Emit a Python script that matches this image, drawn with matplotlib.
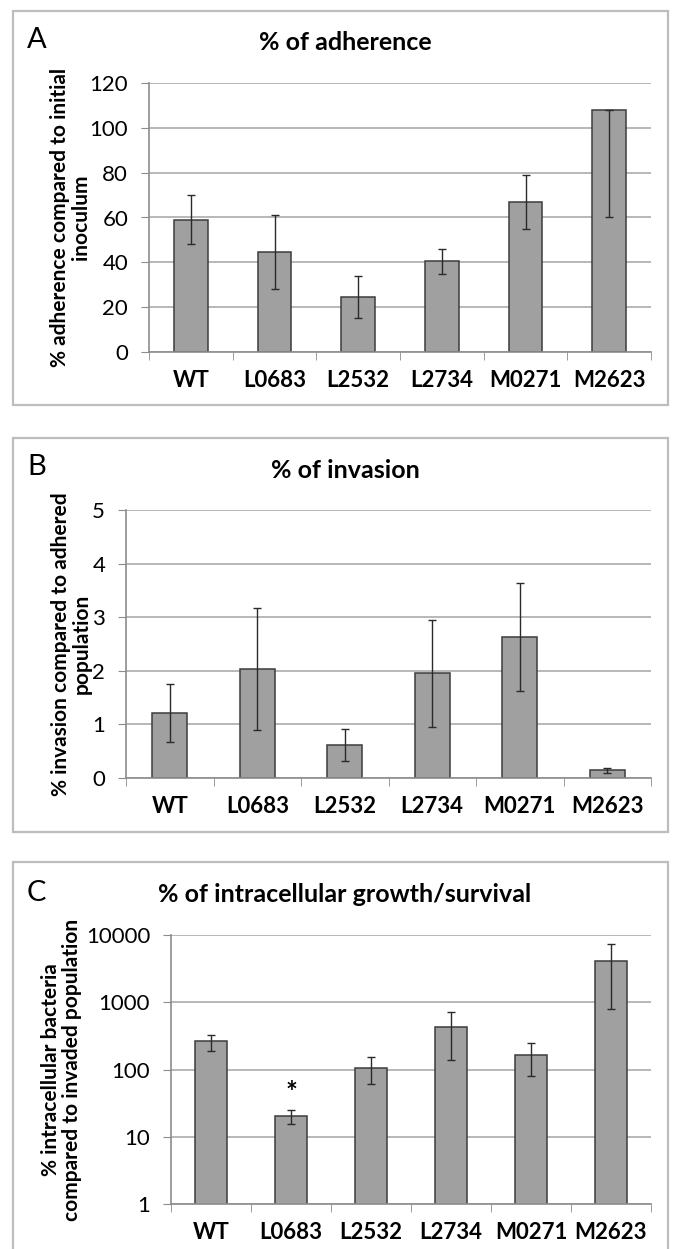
import matplotlib
matplotlib.use("Agg")
import matplotlib.pyplot as plt
from matplotlib.patches import Rectangle
import numpy as np

plt.rcParams["font.family"] = ["Lato", "DejaVu Sans"]

strains = ["WT", "L0683", "L2532", "L2734", "M0271", "M2623"]

# A: adherence
adh_mean = [59, 44.5, 24.5, 40.5, 67, 108]
adh_err_lo = [11, 16.5, 9.5, 5.5, 12, 48]
adh_err_hi = [11, 16.5, 9.5, 5.5, 12, 0]

# B: invasion
inv_mean = [1.22, 2.04, 0.61, 1.95, 2.63, 0.14]
inv_err = [0.54, 1.14, 0.30, 0.99, 1.01, 0.05]

# C: intracellular growth/survival (log scale)
surv_mean = [261, 20.7, 107, 422, 167, 4055]
surv_lo = [190, 15.4, 60, 138, 81, 791]
surv_hi = [331, 25.4, 153, 722, 252, 7260]

W, H = 673, 1249
fig = plt.figure(figsize=(W / 100, H / 100), dpi=100)

BAR = "#a0a0a0"
EDGE = "#3c3c3c"
GRID = "#b8b8b8"
SPINE = "#8c8c8c"


def frac_x(px):
    return px / W


def frac_y(py):
    return 1 - py / H


def frame(top, bottom):
    fig.patches.append(Rectangle((frac_x(13), frac_y(bottom)), frac_x(668) - frac_x(13),
                                 frac_y(top) - frac_y(bottom), transform=fig.transFigure,
                                 fill=False, edgecolor="#bdbdbd", linewidth=1.6))


def make_axes(left, top, bottom, right=651):
    ax = fig.add_axes([frac_x(left), frac_y(bottom), frac_x(right) - frac_x(left),
                       frac_y(top) - frac_y(bottom)])
    return ax


def style(ax, ylabel, ylab_x):
    x = np.arange(len(strains))
    ax.set_xlim(-0.5, len(strains) - 0.5)
    ax.set_xticks(x)
    ax.set_xticklabels(strains, fontsize=16, fontweight="bold")
    ax.set_xticks(np.arange(len(strains) + 1) - 0.5, minor=True)
    ax.tick_params(axis="x", which="major", length=0, pad=13)
    ax.tick_params(axis="x", which="minor", length=6, color=SPINE, direction="out")
    ax.tick_params(axis="y", length=6, color=SPINE, labelsize=16, pad=9)
    for s in ["top", "right"]:
        ax.spines[s].set_visible(False)
    ax.spines["left"].set_color(SPINE)
    ax.spines["bottom"].set_color(SPINE)
    ax.spines["left"].set_linewidth(1.2)
    ax.spines["bottom"].set_linewidth(1.2)
    ax.yaxis.grid(True, color=GRID, linewidth=1.4)
    ax.set_axisbelow(True)
    ax.set_ylabel(ylabel, fontsize=15, fontweight="bold", linespacing=1.05)
    ax.yaxis.set_label_coords(ylab_x, 0.5)


x = np.arange(len(strains))

# Panel A
frame(11, 405)
axA = make_axes(149, 83, 352)
axA.bar(x, adh_mean, width=0.4, color=BAR, edgecolor=EDGE, linewidth=1.1,
        yerr=[adh_err_lo, adh_err_hi], error_kw=dict(ecolor="#2a2a2a", elinewidth=1, capsize=3, capthick=1))
axA.set_ylim(0, 120)
axA.set_yticks(range(0, 121, 20))
style(axA, "% adherence compared to initial\ninoculum", -0.115)
fig.text(frac_x(27), frac_y(40), "A", fontsize=21, va="center", ha="left")
fig.text(frac_x(345), frac_y(43), "% of adherence", fontsize=18, fontweight="bold", ha="center", va="center")

# Panel B
frame(438, 832)
axB = make_axes(126, 510, 778)
axB.bar(x, inv_mean, width=0.4, color=BAR, edgecolor=EDGE, linewidth=1.1,
        yerr=inv_err, error_kw=dict(ecolor="#2a2a2a", elinewidth=1, capsize=3, capthick=1))
axB.set_ylim(0, 5)
axB.set_yticks(range(0, 6))
style(axB, "% invasion compared to adhered\npopulation", -0.065)
fig.text(frac_x(27), frac_y(467), "B", fontsize=21, va="center", ha="left")
fig.text(frac_x(345), frac_y(470), "% of invasion", fontsize=18, fontweight="bold", ha="center", va="center")

# Panel C
frame(862, 1262)
axC = make_axes(171, 935, 1204)
surv_yerr = [np.array(surv_mean) - np.array(surv_lo), np.array(surv_hi) - np.array(surv_mean)]
axC.bar(x, surv_mean, width=0.4, color=BAR, edgecolor=EDGE, linewidth=1.1,
        yerr=surv_yerr, error_kw=dict(ecolor="#2a2a2a", elinewidth=1, capsize=3, capthick=1))
axC.set_yscale("log")
axC.set_ylim(1, 10000)
axC.set_yticks([1, 10, 100, 1000, 10000])
axC.set_yticklabels(["1", "10", "100", "1000", "10000"])
axC.minorticks_off()
style(axC, "% intracellular bacteria\ncompared to invaded population", -0.185)
axC.text(1, 45, "*", fontsize=20, fontweight="bold", ha="center", va="center")
fig.text(frac_x(27), frac_y(893), "C", fontsize=21, va="center", ha="left")
fig.text(frac_x(345), frac_y(895), "% of intracellular growth/survival", fontsize=18, fontweight="bold",
         ha="center", va="center")

fig.savefig("out.png", dpi=100)
